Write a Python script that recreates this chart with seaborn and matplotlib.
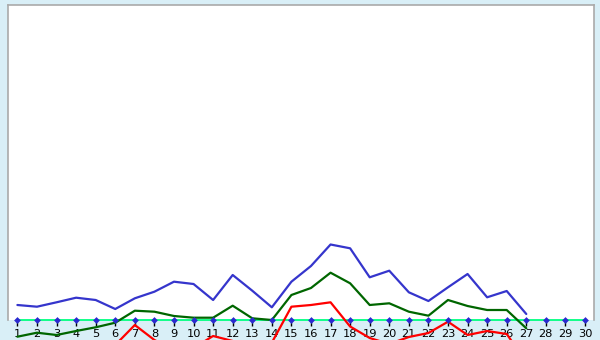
import matplotlib
matplotlib.use("Agg")
import matplotlib.pyplot as plt
import seaborn as sns

days = list(range(1, 31))
tick_labels = [str(d) for d in days]

blue_vals = [15, 13.3, 17.7, 22.3, 20, 11, 21.7, 28.3, 38.3, 36, 20, 45, 29.3, 12.7,
             38.3, 54, 75.5, 71.7, 42.7, 49.3, 27.7, 19, 32.7, 46, 22.7, 29, 6]
green_vals = [-16.7, -12.7, -15, -11, -7.3, -2.7, 9.3, 8.3, 4, 2.3, 2.3, 14.3, 1.7, 0,
              25, 32, 47.3, 36.7, 15, 16.7, 8.3, 4.3, 20, 14, 10, 10, -8.3]
red_vals = [-40, -38, -36, -34, -32, -25, -5, -20, -30, -28, -16, -21, -30, -22.6,
            13.3, 15, 17.7, -6.5, -18, -24, -17, -13, -1.7, -15, -11, -14, -42]
base_vals = [0, 0, 0, 0, 0, 0, 0, 0, 0, 0, 0, 0, 0, 0, 0,
             0, 0, 0, 0, 0, 0, 0, 0, 0, 0, 0, 0, 0, 0, 0]

sns.set_theme(style="white")
plt.rcParams['font.family'] = ['DejaVu Sans']

bg = "#d9eff7"
fig = plt.figure(figsize=(6, 3.4), dpi=100, facecolor=bg)
ax = fig.add_axes([8 / 600, 20 / 340, 586 / 600, 315 / 340])
ax.set_facecolor("white")

sns.lineplot(x=days[:len(blue_vals)], y=blue_vals, ax=ax, color="#3535cc", lw=1.6, clip_on=False, zorder=4)
sns.lineplot(x=days[:len(green_vals)], y=green_vals, ax=ax, color="#006600", lw=1.6, clip_on=False, zorder=4)
sns.lineplot(x=days[:len(red_vals)], y=red_vals, ax=ax, color="#ff0000", lw=1.6, clip_on=False, zorder=4)
sns.lineplot(x=days, y=base_vals, ax=ax, color="#00ff80", lw=1.3, clip_on=False, zorder=3)
ax.scatter(days, base_vals, s=12, color="#2a2ad0", marker="D", linewidths=0, zorder=5, clip_on=False)

ax.set_xlim(0.52, 30.46)
ax.set_ylim(0, 315)
ax.set_xticks(days)
ax.set_xticklabels(tick_labels, fontsize=8.2, color="black")
ax.set_yticks([])
ax.tick_params(axis="x", direction="out", length=4.3, width=1, color="black", pad=2, bottom=True)

for side in ["left", "top", "right"]:
    ax.spines[side].set_color("#aaaaaa")
    ax.spines[side].set_linewidth(1.2)
ax.spines["bottom"].set_visible(False)

fig.savefig("out.png", dpi=100, facecolor=bg)
